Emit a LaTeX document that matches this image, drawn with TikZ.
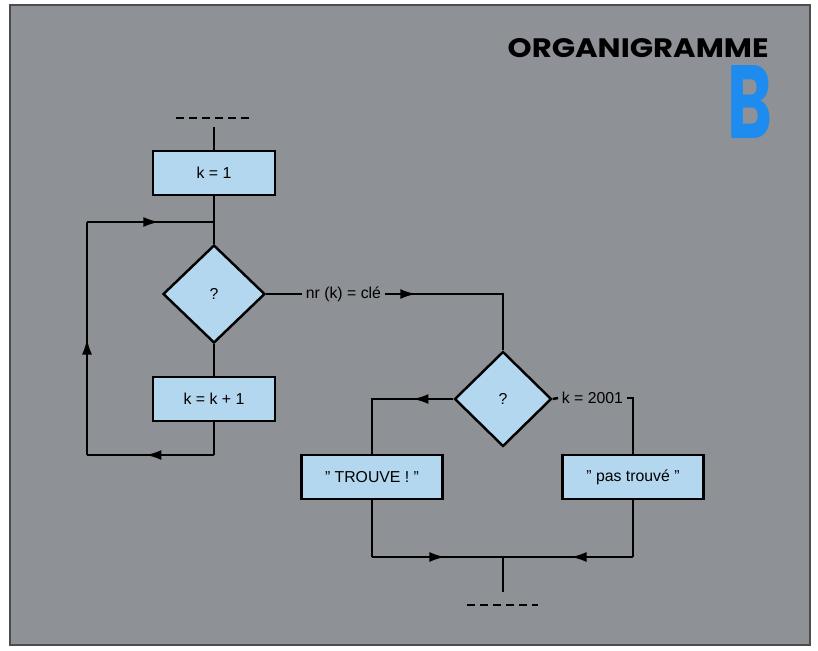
\documentclass[tikz,border=0pt]{standalone}
\usepackage{fontspec}
\setmainfont{Liberation Sans}
\newfontfamily\titlefont{Poppins}
\usepackage{graphicx}
\usetikzlibrary{shapes.geometric,arrows.meta,positioning,calc,decorations.markings}
\definecolor{panelgray}{RGB}{142,145,150}
\definecolor{boxblue}{RGB}{180,215,240}
\definecolor{letterblue}{RGB}{30,140,238}

\tikzset{
  flowline/.style={line width=1.4pt, black},
  procbox/.style={draw=black, line width=1.4pt, fill=boxblue, minimum width=2.44cm,
    minimum height=0.88cm, inner sep=0pt, font=\fontsize{9}{10}\selectfont},
  widebox/.style={procbox, minimum width=2.82cm},
  decision/.style={diamond, draw=black, line width=1.4pt, fill=boxblue, minimum width=2.04cm,
    minimum height=1.96cm, inner sep=0pt, font=\fontsize{9}{10}\selectfont},
  condlabel/.style={font=\fontsize{9}{10}\selectfont, inner sep=2pt},
  arrowat/.style={postaction={decorate,decoration={markings,
    mark=at position #1 with {\arrow{Latex[length=3.2mm,width=2mm]}}}}},
  etcline/.style={line width=1.3pt, dash pattern=on 0.16cm off 0.1cm}
}

\begin{document}
\begin{tikzpicture}[x=0.02cm, y=-0.02cm]
    % --- Panel ---
    \useasboundingbox (0,0) rectangle (818,650);
    \fill[white] (0,0) rectangle (818,650);
    \filldraw[fill=panelgray, draw=black!70, line width=0.8pt] (10,5) rectangle (810,645);

    % --- Title ---
    \node[anchor=base east, inner sep=0pt] (title) at (769,57)
        {\titlefont\bfseries\resizebox{5.22cm}{0.38cm}{ORGANIGRAMME}};
    \node[anchor=base east, inner sep=0pt, letterblue] (letter) at (773,138)
        {\titlefont\bfseries\resizebox{0.9cm}{1.46cm}{B}};

    % --- Loop on k ---
    \draw[etcline] (176,118) -- (251,118);
    \coordinate (entry) at (214,127);
    \node[procbox] (kone) at (214,173) {k = 1};
    \coordinate (join) at (214,222);
    \node[decision] (testkey) at (214,294) {?};
    \node[procbox] (kinc) at (214,399) {k = k + 1};
    \coordinate (loopr) at (214,455);
    \coordinate (loopbl) at (87,455);
    \coordinate (looptl) at (87,222);

    \draw[flowline] (entry) -- (kone);
    \draw[flowline] (kone) -- (testkey);
    \draw[flowline] (testkey) -- (kinc);
    \draw[flowline] (kinc) -- (loopr);
    \draw[flowline, arrowat=0.54] (loopr) -- (loopbl);
    \draw[flowline, arrowat=0.5] (loopbl) -- (looptl);
    \draw[flowline, arrowat=0.57] (looptl) -- (join);

    % --- Search result ---
    \node[condlabel, anchor=west] (eqkey) at (302,294) {nr (k) = clé};
    \node[decision, minimum width=1.94cm, minimum height=1.9cm] (testend) at (503,399) {?};
    \node[condlabel, anchor=west] (eqend) at (558,398) {k = 2001};
    \node[widebox] (found) at (372,477) {\char34\ TROUVE ! \char34};
    \node[widebox] (notfound) at (633,477) {\char34\ pas trouvé \char34};

    \draw[flowline] (testkey.east) -- (eqkey.west);
    \draw[flowline, arrowat=0.18] (eqkey.east) -| (testend.north);
    \draw[flowline, arrowat=0.3] (testend.west) -| (found.north);
    \draw[flowline] (testend.east) -- (eqend.west);
    \draw[flowline] (eqend.east) -| (notfound.north);

    % --- Merge ---
    \coordinate (mergel) at (372,557);
    \coordinate (merge) at (503,557);
    \coordinate (merger) at (633,557);
    \coordinate (exit) at (503,592);
    \draw[flowline] (found) -- (mergel);
    \draw[flowline, arrowat=0.56] (mergel) -- (merge);
    \draw[flowline] (notfound) -- (merger);
    \draw[flowline, arrowat=0.48] (merger) -- (merge);
    \draw[flowline] (merge) -- (exit);
    \draw[etcline] (467,605) -- (538,605);
\end{tikzpicture}
\end{document}
